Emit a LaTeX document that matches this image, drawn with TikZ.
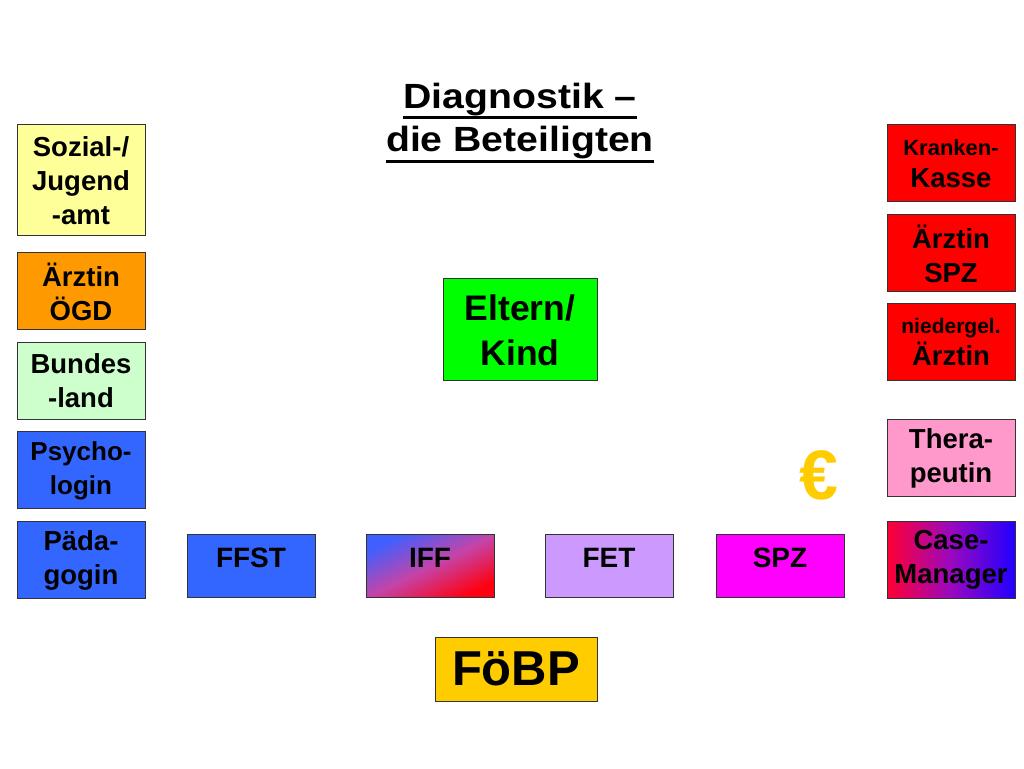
\documentclass[tikz,border=0pt]{standalone}
\usepackage{fontspec}
\setmainfont{Liberation Sans}
\newfontfamily\titelfont{Liberation Sans}[FakeStretch=1.12]
\usepackage{tikz}
\usetikzlibrary{calc}

\definecolor{gelb}{HTML}{FFFF99}
\definecolor{orangeOGD}{HTML}{FF9900}
\definecolor{hellgruen}{HTML}{CCFFCC}
\definecolor{blauB}{HTML}{3366FF}
\definecolor{rotK}{HTML}{FF0000}
\definecolor{rosa}{HTML}{FF99CC}
\definecolor{lila}{HTML}{CC99FF}
\definecolor{magentaS}{HTML}{FF00FF}
\definecolor{gruenE}{HTML}{00FF00}
\definecolor{goldF}{HTML}{FFCC00}
\definecolor{randG}{HTML}{333333}
\definecolor{iffBlau}{HTML}{3F5FFF}
\definecolor{iffMitte}{HTML}{C444A8}
\definecolor{iffRot}{HTML}{FF0010}
\definecolor{caseRot}{HTML}{FF0033}
\definecolor{caseMitte}{HTML}{9A08C0}
\definecolor{caseBlau}{HTML}{2200FF}

\newcommand{\boxfont}{\fontsize{27.5}{34}\selectfont\bfseries}
\newcommand{\kleinfont}[2]{{\fontsize{#1}{22}\selectfont\bfseries #2}}
%underline with own depth
\newcommand{\unter}[2]{\setbox0\hbox{#2}\rlap{\rule[-#1]{\wd0}{3pt}}\box0}

\tikzset{
	kasten/.style={draw=randG, line width=1pt, minimum width=128, minimum height=77, inner sep=0pt, align=center, font=\boxfont},
	reihe/.style={kasten, minimum height=63, text height=33, text depth=30, font=\fontsize{28}{32}\selectfont\bfseries}
}

\begin{document}
\begin{tikzpicture}[x=1pt,y=1pt]
	\useasboundingbox (0,0) rectangle (1024,768);
	\fill[white] (0,0) rectangle (1024,768);
	
	%title
	\node[align=center, inner sep=0pt, font=\titelfont\fontsize{35}{43}\selectfont\bfseries] (titel) at (520,645) {\unter{10pt}{Diagnostik –}\\\unter{11pt}{die Beteiligten}};
	
	%left column
	\node[kasten, fill=gelb, minimum height=111] (sozial) at (81,587.5) {Sozial-/\\Jugend\\-amt};
	\node[kasten, fill=orangeOGD] (oegd) at (81,476.5) {Ärztin\\ÖGD};
	\node[kasten, fill=hellgruen] (bund) at (81,387) {Bundes\\-land};
	\node[kasten, fill=blauB, font=\fontsize{26}{34}\selectfont\bfseries] (psycho) at (81,297.5) {Psycho-\\login};
	\node[kasten, fill=blauB] (paeda) at (81,207.5) {Päda-\\gogin};
	
	%right column
	\node[kasten, fill=rotK] (kasse) at (951,604.5) {\kleinfont{22}{Kranken-}\\[-2pt]Kasse};
	\node[kasten, fill=rotK] (aspz) at (951,514.5) {Ärztin\\SPZ};
	\node[kasten, fill=rotK] (nieder) at (951,425.5) {\kleinfont{21}{niedergel.}\\[-2pt]Ärztin};
	\node[kasten, fill=rosa] (thera) at (951,309.5) {Thera-\\peutin};
	\node[kasten, left color=caseRot, right color=caseBlau, middle color=caseMitte] (case) at (951,208) {Case-\\Manager};
	
	%middle
	\node[kasten, fill=gruenE, minimum width=154, minimum height=102, font=\fontsize{35.5}{45}\selectfont\bfseries] (eltern) at (520,438) {Eltern/\\Kind};
	\node[text=goldF, font=\fontsize{70}{70}\selectfont\bfseries] (euro) at (819,293) {€};
	
	%bottom row
	\node[reihe, fill=blauB] (ffst) at (251,201.5) {FFST};
	\node[reihe, top color=iffBlau, bottom color=iffRot, middle color=iffMitte, shading angle=26] (iff) at (430,201.5) {IFF};
	\node[reihe, fill=lila] (fet) at (609,201.5) {FET};
	\node[reihe, fill=magentaS] (spz) at (780,201.5) {SPZ};
	
	\node[kasten, fill=goldF, minimum width=162, minimum height=64, font=\fontsize{49}{52}\selectfont\bfseries] (foebp) at (516,99) {FöBP};
	
\end{tikzpicture}
\end{document}
